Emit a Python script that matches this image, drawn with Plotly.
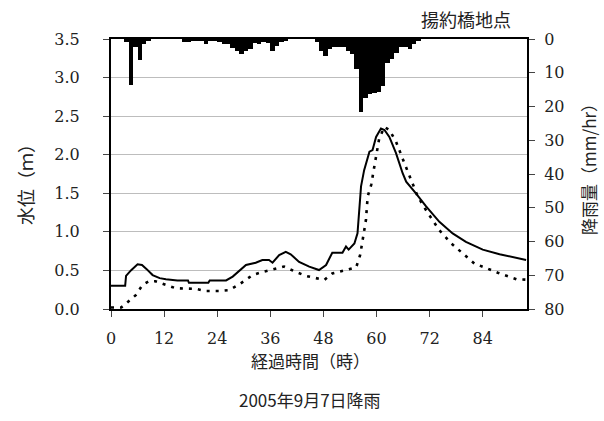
import plotly.graph_objects as go

# hourly rainfall (mm/hr), hour index 0..93
rain_hours = list(range(0, 94))
rain_mm = [0, 0, 0, 1.0, 13.5, 2.5, 6.2, 1.5, 0.3, 0,
           0, 0, 0, 0, 0, 0, 0.8, 0.8, 0.5, 0.6,
           0.7, 1.5, 0.6, 0.5, 0.8, 1.6, 1.6, 2.6, 3.5, 4.5,
           3.5, 3.0, 1.2, 1.5, 1.0, 1.3, 3.5, 2.0, 0.8, 0.3,
           0, 0, 0, 0, 0, 0, 1.0, 3.6, 5.0, 3.0,
           2.5, 2.5, 2.5, 3.6, 4.5, 9.0, 21.5, 17.4, 16.3, 16.0,
           15.8, 14.0, 7.0, 6.0, 4.0, 2.5, 2.5, 3.0, 1.5, 0.5,
           0, 0, 0, 0, 0, 0, 0, 0, 0, 0,
           0, 0, 0, 0, 0, 0, 0, 0, 0, 0,
           0, 0, 0, 0]

# observed water level (solid)
obs_t = [0, 3.2, 3.4, 4.5, 6, 7, 8, 9.4, 11, 12.4, 15, 17.4, 17.6, 22, 22.3, 26,
         27.5, 29, 30.5, 32.7, 34.2, 35.7, 36.5, 38, 39.5, 40.6, 42.5, 44.8, 47,
         48.6, 50, 52.3, 53.1, 53.7, 55, 55.7, 56.1, 56.5, 57.2, 58.4, 59.1, 59.9,
         61, 61.8, 62.9, 64.4, 65.9, 66.7, 68.9, 71.2, 74.2, 77.2, 80.2, 84, 87.8,
         91.6, 93.8]
obs_h = [0.30, 0.30, 0.43, 0.50, 0.58, 0.57, 0.52, 0.44, 0.40, 0.385, 0.37, 0.37,
         0.34, 0.34, 0.37, 0.37, 0.42, 0.50, 0.57, 0.60, 0.635, 0.635, 0.60, 0.70,
         0.74, 0.71, 0.61, 0.55, 0.505, 0.57, 0.73, 0.73, 0.81, 0.77, 0.85, 0.98,
         1.28, 1.59, 1.80, 2.04, 2.06, 2.23, 2.34, 2.32, 2.23, 2.02, 1.76, 1.65,
         1.50, 1.33, 1.13, 0.98, 0.87, 0.77, 0.71, 0.66, 0.635]

# calculated water level (dotted)
calc_t = [0, 2.3, 3, 4.1, 5.6, 7.1, 8.6, 10, 12.4, 14.6, 19.2, 21.4, 24.4, 26.7,
          29, 32, 34.2, 37.3, 39.1, 41.8, 44, 46.3, 48.2, 50, 53.1, 55.4, 56.3,
          57.2, 57.6, 58, 58.8, 59.3, 60, 60.6, 61.8, 62.9, 64.4, 65.5, 66.3,
          69.3, 71.2, 74.2, 76.9, 79.5, 82.1, 84.8, 87.4, 91.6, 93.8]
calc_h = [0.02, 0.02, 0.05, 0.10, 0.18, 0.31, 0.36, 0.36, 0.31, 0.27, 0.26, 0.233,
          0.233, 0.245, 0.32, 0.44, 0.48, 0.53, 0.55, 0.48, 0.43, 0.40, 0.376,
          0.46, 0.51, 0.54, 0.70, 0.98, 1.15, 1.46, 1.61, 1.78, 2.02, 2.21, 2.36,
          2.32, 2.17, 2.02, 1.89, 1.46, 1.28, 1.02, 0.85, 0.72, 0.59, 0.53, 0.47,
          0.385, 0.38]

x_ticks = [0, 12, 24, 36, 48, 60, 72, 84]
y_ticks = [0.0, 0.5, 1.0, 1.5, 2.0, 2.5, 3.0, 3.5]
y_ticklabels = ["0.0", "0.5", "1.0", "1.5", "2.0", "2.5", "3.0", "3.5"]
rain_ticks = [0, 10, 20, 30, 40, 50, 60, 70, 80]

X_RANGE = [0, 94]
TXT = "#222222"
NUMFONT = dict(family="DejaVu Serif", size=16, color=TXT)
JPFONT = "Noto Sans CJK JP"

W, H = 604, 421
ML, MR, MT, MB = 111, 77, 39, 112

fig = go.Figure()
fig.add_trace(go.Bar(x=[h + 0.5 for h in rain_hours], y=rain_mm, width=1,
                     marker=dict(color="black", line=dict(width=0)),
                     yaxis="y2", showlegend=False))
fig.add_trace(go.Scatter(x=calc_t, y=calc_h, mode="lines",
                         line=dict(color="black", width=2.6, dash="3px,6px"),
                         showlegend=False))
fig.add_trace(go.Scatter(x=obs_t, y=obs_h, mode="lines",
                         line=dict(color="black", width=2),
                         showlegend=False))

axis_common = dict(showline=True, linecolor="black", linewidth=2,
                   ticks="outside", ticklen=6, tickwidth=1, tickcolor="#444",
                   zeroline=False)

fig.update_layout(
    width=W, height=H,
    margin=dict(l=ML, r=MR, t=MT, b=MB),
    paper_bgcolor="white", plot_bgcolor="white",
    bargap=0,
    xaxis=dict(range=X_RANGE, tickvals=x_ticks, showgrid=False,
               tickfont=NUMFONT, ticklabelstandoff=8, mirror=True,
               **axis_common),
    yaxis=dict(range=[0, 3.5], tickvals=y_ticks, ticktext=y_ticklabels,
               showgrid=True, gridcolor="#bdbdbd", gridwidth=1,
               tickfont=NUMFONT, ticklabelstandoff=20, **axis_common),
    yaxis2=dict(range=[80, 0], tickvals=rain_ticks, overlaying="y", side="right",
                showgrid=False, tickfont=NUMFONT, ticklabelstandoff=6,
                **axis_common),
    xaxis2=dict(range=X_RANGE, tickvals=x_ticks, overlaying="x", ticks="inside",
                ticklen=6, tickcolor="#444", showticklabels=False, showgrid=False,
                showline=False, zeroline=False),
    yaxis3=dict(range=[0, 3.5], tickvals=y_ticks, overlaying="y", ticks="inside",
                ticklen=6, tickcolor="#444", showticklabels=False, showgrid=False,
                showline=False, zeroline=False),
    yaxis4=dict(range=[80, 0], tickvals=rain_ticks, overlaying="y", side="right",
                ticks="inside", ticklen=6, tickcolor="#444", showticklabels=False,
                showgrid=False, showline=False, zeroline=False),
)

annos = [
    dict(text="水位（ｍ）", x=25, y=180, textangle=-90, size=18),
    dict(text="降雨量（mm/hr）", x=588, y=165, textangle=-90, size=17),
    dict(text="経過時間（時）", x=310, y=360, textangle=0, size=17),
    dict(text="2005年9月7日降雨", x=310, y=399, textangle=0, size=17),
    dict(text="揚約橋地点", x=466, y=19, textangle=0, size=18),
]
pw, ph = W - ML - MR, H - MT - MB
for a in annos:
    fig.add_annotation(text=a["text"], x=(a["x"] - ML) / pw, y=(H - MB - a["y"]) / ph,
                       xref="paper", yref="paper", showarrow=False,
                       textangle=a["textangle"], xanchor="center", yanchor="middle",
                       font=dict(family=JPFONT, size=a["size"], color=TXT))

fig.write_html("out.html")
